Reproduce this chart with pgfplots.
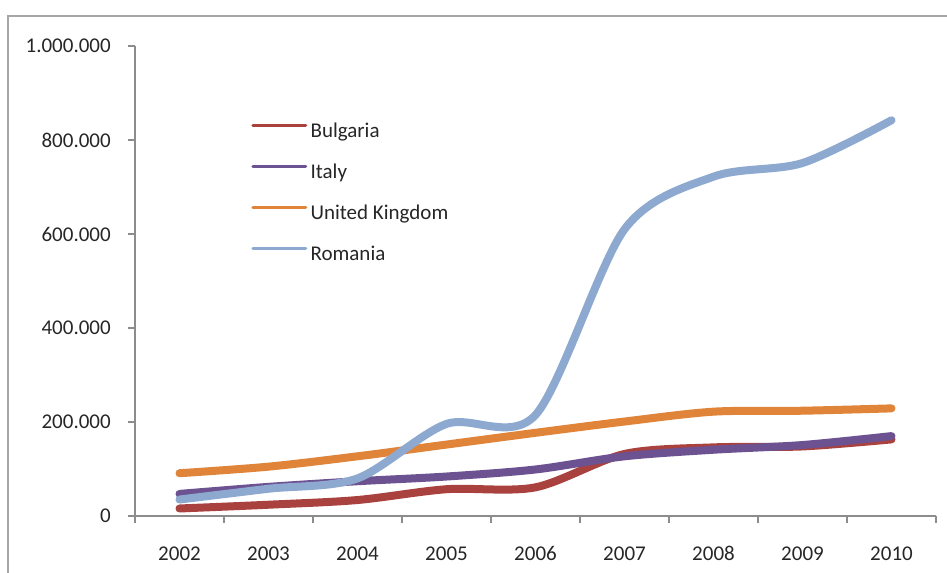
\documentclass[border=0pt]{standalone}
\usepackage{fontspec}
\setmainfont{Carlito}
\usepackage{pgfplots}
\pgfplotsset{compat=1.18}

\definecolor{bgred}{HTML}{A9423F}
\definecolor{itpurple}{HTML}{6C5290}
\definecolor{ukorange}{HTML}{E0843A}
\definecolor{roblue}{HTML}{8EA9D0}
\definecolor{axgray}{HTML}{8C8C8C}
\definecolor{framegray}{HTML}{A6A6A6}
\definecolor{txt}{HTML}{262626}

\begin{document}
\begin{tikzpicture}
  % page = 947x572 px, 1 px = 0.75pt, axis origin at px (135,516)
  \useasboundingbox (-101.25pt,-42pt) rectangle (609pt,387pt);
  \draw[framegray, line width=1.5pt] (-94.9pt,-60pt) -- (-94.9pt,375pt) -- (640pt,375pt);

  \begin{axis}[
      scale only axis,
      width=600.75pt,
      height=352.5pt,
      xmin=-0.5, xmax=8.5,
      ymin=0, ymax=1000000,
      axis lines*=left,
      axis line style={axgray, line width=0.9pt},
      tick align=outside,
      major tick length=5.25pt,
      minor tick length=5.25pt,
      tick style={axgray, line width=0.9pt},
      xtick={0,...,8},
      xticklabels={2002,2003,2004,2005,2006,2007,2008,2009,2010},
      major x tick style={draw=none},
      minor x tick style={axgray, line width=0.9pt},
      minor xtick={-0.5,0.5,...,8.5},
      ytick={0,200000,...,1000000},
      scaled y ticks=false,
      y tick label style={/pgf/number format/fixed, /pgf/number format/1000 sep={.},
        /pgf/number format/assume math mode=true},
      ticklabel style={font=\fontsize{15.75}{18}\selectfont, text=txt, inner sep=0pt},
      y tick label style={anchor=east, xshift=-12.75pt},
      x tick label style={anchor=north, yshift=-17.5pt},
      clip=false,
      legend style={
        at={(0.1448,0.8375)}, anchor=north west,
        draw=none, fill=none, inner sep=0pt,
        row sep=15.75pt, column sep=2.5pt,
        font=\fontsize{15.75}{18}\selectfont, text=txt,
        nodes={inner sep=0pt, text height=11pt, text depth=4pt},
      },
      legend cell align=left,
      legend image code/.code={
        \draw[#1, line width=2.25pt, line cap=round] (0pt,5.25pt) -- (39.75pt,5.25pt);
      },
      every axis plot/.append style={line width=6pt, line cap=round, line join=round, smooth, tension=0.5},
    ]
    \addplot[bgred] coordinates {
        (0,16000) (1,24000) (2,34000) (3,57000) (4,61000)
        (5,132000) (6,146000) (7,148000) (8,163000)
      };
    \addlegendentry{Bulgaria}

    \addplot[itpurple] coordinates {
        (0,47000) (1,62000) (2,74000) (3,84000) (4,99000)
        (5,127000) (6,141000) (7,151000) (8,170000)
      };
    \addlegendentry{Italy}

    \addplot[ukorange] coordinates {
        (0,91000) (1,105000) (2,127000) (3,152000) (4,177000)
        (5,201000) (6,222000) (7,224000) (8,229000)
      };
    \addlegendentry{United Kingdom}

    \addplot[roblue] coordinates {
        (0,35000) (1,58000) (2,80000) (3,196000) (4,215000)
        (5,610000) (6,722000) (7,751000) (8,842000)
      };
    \addlegendentry{Romania}
  \end{axis}
\end{tikzpicture}
\end{document}
